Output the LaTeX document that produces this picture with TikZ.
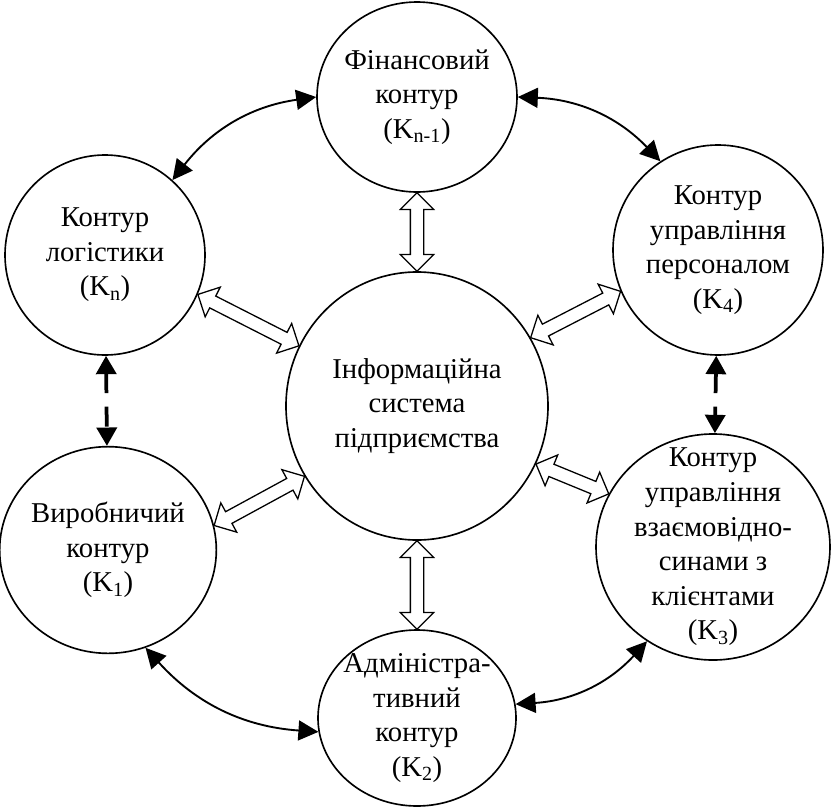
\documentclass[tikz,border=0pt]{standalone}
\usepackage{fontspec}
\setmainfont{Liberation Serif}
\usetikzlibrary{arrows.meta, shapes.geometric, shapes.arrows, calc}

% hollow double arrow between two border points
\newcommand\infolink[3]{%
  \path let \p1=(#2), \p2=(#3), \n1={atan2(\y2-\y1,\x2-\x1)},
    \n2={veclen(\x2-\x1,\y2-\y1)} in
    node[infoarrow, minimum height=\n2, rotate=\n1] (#1) at ($(\p1)!0.5!(\p2)$) {};}

\begin{document}
\begin{tikzpicture}[
        x=0.03cm, y=-0.03cm,
        unit/.style={draw, ellipse, line width=1.4pt, inner sep=0pt},
        caption/.style={align=center, font=\fontsize{24.5}{29.5}\selectfont},
        link/.style={{Triangle[length=0.6cm,width=0.6cm]}-{Triangle[length=0.6cm,width=0.6cm]}, line width=1.6pt},
        dlink/.style={{Triangle[length=0.55cm,width=0.6cm]}-{Triangle[length=0.55cm,width=0.6cm]}, line width=3.2pt, dash pattern=on 0.6cm off 0.4cm},
        infoarrow/.style={draw, fill=white, double arrow, double arrow head extend=0.3cm, inner xsep=0pt, inner ysep=0.18cm, line width=1.1pt}
    ]
        \useasboundingbox (0,0) rectangle (833,807);
        \node[unit, minimum width=7.86cm, minimum height=8.04cm,
            label={[caption]center:Інформаційна\\система\\підприємства}] (is) at (417,406) {};
        \node[unit, minimum width=6cm, minimum height=5.7cm,
            label={[caption]center:Фінансовий\\контур\\(K\textsubscript{n-1})}] (fin) at (417,97) {};
        \node[unit, minimum width=6cm, minimum height=6cm,
            label={[caption]center:Контур\\логістики\\(K\textsubscript{n})}] (log) at (105,255) {};
        \node[unit, minimum width=6.3cm, minimum height=6.3cm,
            label={[caption]center:Контур\\управління\\персоналом\\(K\textsubscript{4})}] (pers) at (718,250) {};
        \node[unit, minimum width=6.5cm, minimum height=6.2cm,
            label={[caption]center:Виробничий\\контур\\(K\textsubscript{1})}] (prod) at (108,550) {};
        \node[unit, minimum width=5.94cm, minimum height=5.28cm,
            label={[caption]center:Адміністра-\\тивний\\контур\\(K\textsubscript{2})}] (adm) at (417,718) {};
        \node[unit, minimum width=7.02cm, minimum height=6.78cm,
            label={[caption]center:Контур\\управління\\взаємовідно-\\синами з\\клієнтами\\(K\textsubscript{3})}] (cli) at (713,547) {};
        % links between neighbouring contours
        \draw[link] (log.48) to[bend left=22] (fin.west);
        \draw[link] (fin.east) to[bend left=22] (pers.123);
        \draw[link] (prod.-69) to[bend right=22] (adm.188);
        \draw[link] (adm.8) to[bend right=22] (cli.-125);
        \draw[dlink] (log) -- (prod);
        \draw[dlink] (pers) -- (cli);
        % links with the information system
        \infolink{is-fin}{is.90}{fin.270}
        \infolink{is-log}{is.153}{log.-23}
        \infolink{is-pers}{is.31}{pers.203}
        \infolink{is-prod}{is.212}{prod.13}
        \infolink{is-adm}{is.270}{adm.90}
        \infolink{is-cli}{is.-26}{cli.153}
    \end{tikzpicture}
\end{document}
